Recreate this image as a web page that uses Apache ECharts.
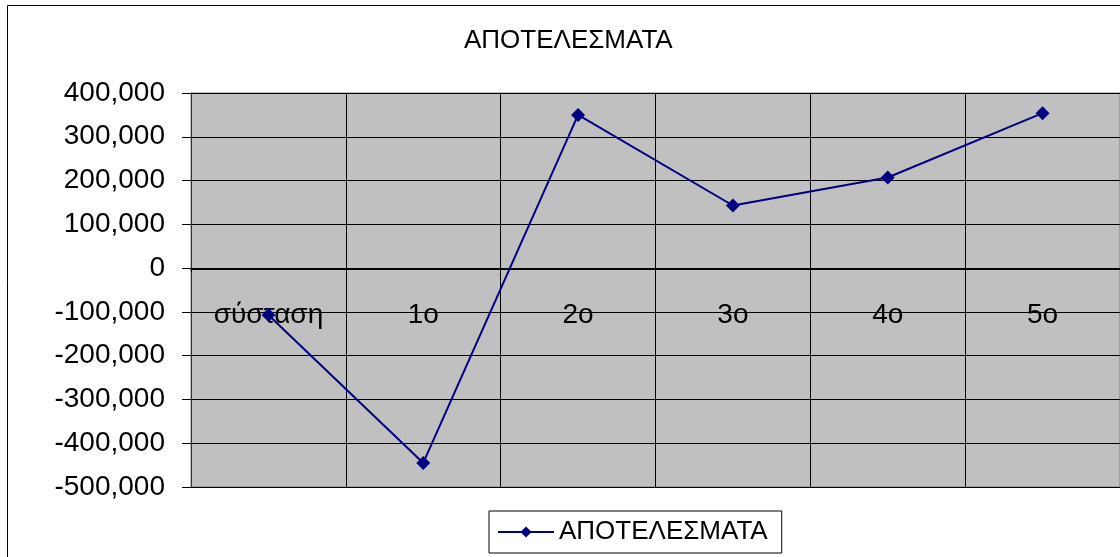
<!DOCTYPE html>
<html>
<head>
<meta charset="utf-8">
<script src="https://cdn.jsdelivr.net/npm/echarts@6/dist/echarts.min.js"></script>
<style>
  html, body { margin: 0; padding: 0; background: #fff; }
  #main { width: 1120px; height: 557px; }
</style>
</head>
<body>
<div id="main"></div>
<script>
var categories = ['σύσταση', '1ο', '2ο', '3ο', '4ο', '5ο'];
var results = [-107000, -445000, 350000, 143000, 207000, 354000];
var yMin = -500000, yMax = 400000, yStep = 100000;

var myChart = echarts.init(document.getElementById('main'));
var option = {
    backgroundColor: '#fff',
    textStyle: { fontFamily: 'Liberation Sans, Arial, sans-serif' },
    title: {
        text: 'ΑΠΟΤΕΛΕΣΜΑΤΑ',
        left: 459,
        top: 23,
        textStyle: { fontSize: 26, fontWeight: 'normal', color: '#000' }
    },
    graphic: [{
        type: 'rect',
        z: -10,
        shape: { x: 7.5, y: 5.5, width: 1300, height: 700 },
        style: { fill: 'none', stroke: '#000', lineWidth: 1 }
    }],
    legend: {
        left: 489,
        bottom: 4,
        backgroundColor: '#fff',
        borderColor: '#000',
        borderWidth: 1,
        padding: [8, 14, 8, 8],
        itemWidth: 56,
        itemHeight: 14,
        itemGap: 4,
        textStyle: { fontSize: 26, color: '#000' },
        data: ['ΑΠΟΤΕΛΕΣΜΑΤΑ']
    },
    grid: {
        left: 191,
        right: -1,
        top: 93,
        bottom: 70,
        show: true,
        backgroundColor: '#c0c0c0',
        borderColor: '#808080',
        borderWidth: 1
    },
    xAxis: {
        type: 'category',
        data: categories,
        boundaryGap: true,
        offset: -218,
        axisLine: { onZero: false, lineStyle: { color: '#000', width: 1 } },
        axisTick: { show: true, length: 3, lineStyle: { color: '#000' } },
        axisLabel: { fontSize: 28, color: '#000', margin: 32 },
        splitLine: { show: true, lineStyle: { color: '#000', width: 1 } }
    },
    yAxis: {
        type: 'value',
        min: yMin,
        max: yMax,
        interval: yStep,
        axisLine: { show: true, lineStyle: { color: '#333', width: 1 } },
        axisTick: { show: true, length: 9, lineStyle: { color: '#000' } },
        axisLabel: {
            fontSize: 28,
            color: '#000',
            margin: 26,
            formatter: function (v) {
                return v === 0 ? '0' : (v < 0 ? '-' : '') + Math.abs(v).toString().replace(/\B(?=(\d{3})+(?!\d))/g, ',');
            }
        },
        splitLine: { show: true, lineStyle: { color: '#000', width: 1 } }
    },
    series: [{
        name: 'ΑΠΟΤΕΛΕΣΜΑΤΑ',
        type: 'line',
        data: results,
        symbol: 'diamond',
        symbolSize: 14,
        itemStyle: { color: '#000080' },
        lineStyle: { color: '#000080', width: 2 }
    }]
};
myChart.setOption(option);
</script>
</body>
</html>
